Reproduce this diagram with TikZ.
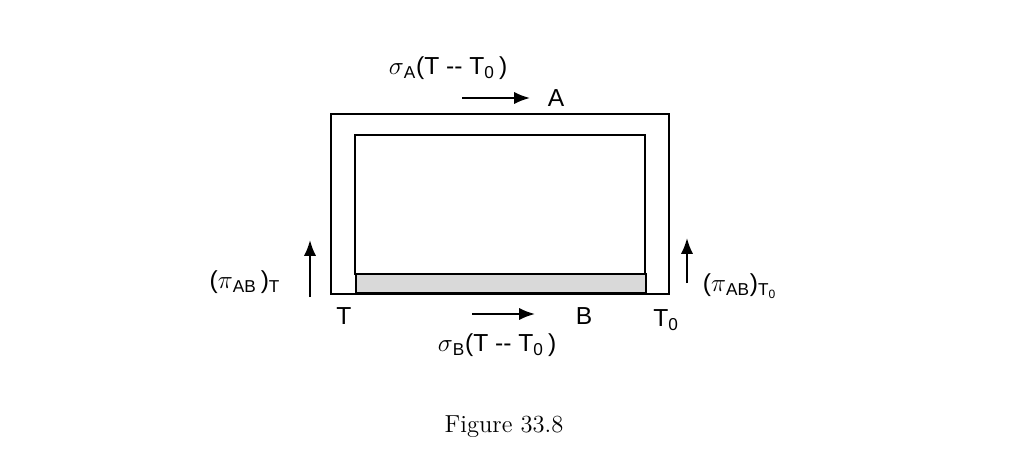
\documentclass[tikz,border=0pt]{standalone}
\usepackage{fontspec}
\newfontfamily\labelfont{Liberation Sans}
\usetikzlibrary{arrows.meta,positioning}

\begin{document}
\begin{tikzpicture}[
    x=0.02cm, y=-0.02cm,
    wall/.style={draw, line width=1.3pt},
    flow/.style={draw, line width=1.2pt, -{Latex[length=9pt,width=7pt]}},
    lbl/.style={font=\labelfont\fontsize{14}{16}\selectfont, inner sep=0pt}
]
\useasboundingbox (0,0) rectangle (1027,456);

% conductor B (grey strip) and the A loop
\node [wall, fill=black!15, minimum width=290*0.02cm, minimum height=19*0.02cm, inner sep=0pt, anchor=south west] (strip) at (355,294) {};
\draw [wall] (331,294) -- (331,114) -- (669,114) -- (669,294) -- cycle;
\draw [wall] (355,275) -- (355,135) -- (645,135) -- (645,275);

% top
\coordinate (atail) at (462,98);
\coordinate (ahead) at (530,98);
\path [flow] (atail) -- (ahead);
\node [lbl, right=10pt of ahead] (labA) {A};
\node [lbl] (sigA) at (448,68) {$\sigma$\textsubscript{A}(T -- T\textsubscript{0}\,)};

% bottom
\coordinate (btail) at (472,314);
\coordinate (bhead) at (535,314);
\path [flow] (btail) -- (bhead);
\node [lbl] (labB) at (584,316) {B};
\node [lbl] (labT) at (344,316) {T};
\node [lbl] (labT0) at (666,320) {T\textsubscript{0}};
\node [lbl] (sigB) at (497,345) {$\sigma$\textsubscript{B}(T -- T\textsubscript{0}\,)};

% Peltier arrows
\coordinate (ltail) at (310,297);
\coordinate (lhead) at (310,240);
\path [flow] (ltail) -- (lhead);
\node [lbl] (piT) at (245,282) {($\pi$\textsubscript{AB}\,)\textsubscript{T}};
\coordinate (rtail) at (687,283);
\coordinate (rhead) at (687,238);
\path [flow] (rtail) -- (rhead);
\node [lbl] (piT0) at (740,286) {($\pi$\textsubscript{AB})\textsubscript{T\textsubscript{0}}};

\node [font=\fontsize{14}{16}\selectfont, inner sep=0pt] (cap) at (504,427) {Figure 33.8};
\end{tikzpicture}
\end{document}
